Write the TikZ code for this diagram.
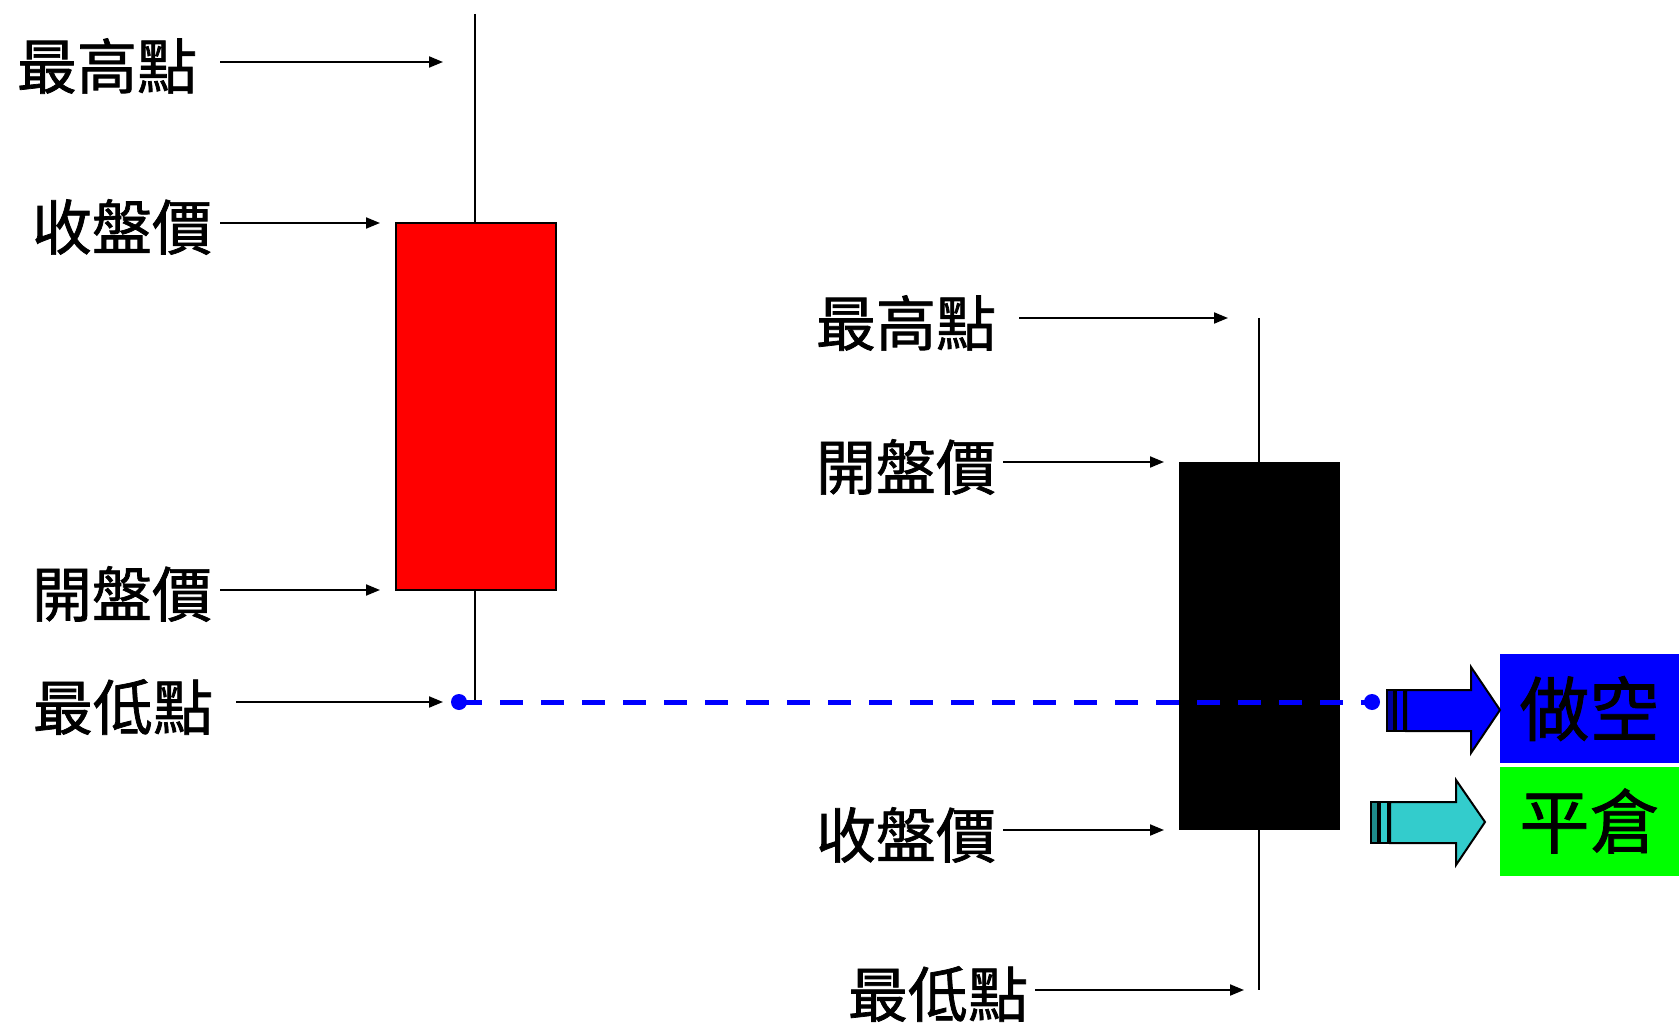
\documentclass[tikz,border=0pt]{standalone}
\usepackage{fontspec}
\newfontfamily\cjk[FakeBold=1.2]{Noto Sans CJK TC}
\usetikzlibrary{arrows.meta}
\definecolor{cyanA}{HTML}{33CCCC}
\definecolor{cyanD}{HTML}{1E8C8C}
\definecolor{blueD}{HTML}{0000A0}
\tikzset{
  lbl/.style={font=\cjk\fontsize{60}{64}\selectfont, inner sep=0pt},
  big/.style={font=\cjk\fontsize{70}{74}\selectfont, inner sep=0pt, minimum width=179pt, minimum height=109pt},
  ptr/.style={line width=2pt, -{Triangle[length=14pt,width=11pt]}},
  wick/.style={line width=2pt},
  dot/.style={circle, fill=blue, inner sep=0pt, minimum size=16pt},
  blk/.style={draw=black, line width=2pt}
}
\begin{document}
\begin{tikzpicture}[x=1pt,y=-1pt]
\useasboundingbox (0,0) rectangle (1679,1024);
% left candle
\coordinate (lt) at (475,14);
\coordinate (lb) at (475,702);
\draw[wick] (lt) -- (lb);
\node[blk, fill=red, minimum width=160pt, minimum height=367pt, inner sep=0pt] (red) at (476,406.5) {};
% left labels
\node[lbl] (l1) at (107,66) {最高點};
\node[lbl] (l2) at (122,227) {收盤價};
\node[lbl] (l3) at (122,594) {開盤價};
\node[lbl] (l4) at (123,707) {最低點};
\coordinate (l1s) at (220,62);  \coordinate (l1e) at (443,62);
\coordinate (l2s) at (220,223); \coordinate (l2e) at (380,223);
\coordinate (l3s) at (220,590); \coordinate (l3e) at (380,590);
\coordinate (l4s) at (236,702); \coordinate (l4e) at (443,702);
\draw[ptr] (l1s) -- (l1e);
\draw[ptr] (l2s) -- (l2e);
\draw[ptr] (l3s) -- (l3e);
\draw[ptr] (l4s) -- (l4e);
% right candle
\coordinate (rt) at (1259,318);
\coordinate (rb) at (1259,990);
\draw[wick] (rt) -- (rb);
\node[fill=black, minimum width=161pt, minimum height=368pt, inner sep=0pt] (blackbox) at (1259.5,646) {};
% right labels
\node[lbl] (r1) at (906,323) {最高點};
\node[lbl] (r2) at (906,467) {開盤價};
\node[lbl] (r3) at (906,835) {收盤價};
\node[lbl] (r4) at (938,994) {最低點};
\coordinate (r1s) at (1019,318); \coordinate (r1e) at (1228,318);
\coordinate (r2s) at (1003,462); \coordinate (r2e) at (1164,462);
\coordinate (r3s) at (1003,830); \coordinate (r3e) at (1164,830);
\coordinate (r4s) at (1035,990); \coordinate (r4e) at (1244,990);
\draw[ptr] (r1s) -- (r1e);
\draw[ptr] (r2s) -- (r2e);
\draw[ptr] (r3s) -- (r3e);
\draw[ptr] (r4s) -- (r4e);
% dashed line
\node[dot] (dl) at (459,702) {};
\node[dot] (dr) at (1372,702) {};
\draw[blue, line width=5pt, dash pattern=on 23pt off 18pt] (dl.center) -- (dr.center);
% boxes
\node[big, fill=blue] (short) at (1589.5,708.5) {做空};
\node[big, fill=green] (close) at (1589.5,821) {平倉};
% block arrows
\draw[black, line width=1.5pt, fill=blueD] (1387,690) rectangle (1394,731);
\draw[black, line width=1.5pt, fill=blue] (1396,690) rectangle (1404,731);
\draw[black, line width=2pt, fill=blue, line join=miter]
  (1406,690) -- (1471,690) -- (1471,667) -- (1500,710) -- (1471,753) -- (1471,731) -- (1406,731) -- cycle;
\draw[black, line width=1.5pt, fill=cyanD] (1371,802) rectangle (1378,843);
\draw[black, line width=1.5pt, fill=cyanA] (1380,802) rectangle (1388,843);
\draw[black, line width=2pt, fill=cyanA, line join=miter]
  (1390,802) -- (1456,802) -- (1456,780) -- (1485,822) -- (1456,865) -- (1456,843) -- (1390,843) -- cycle;
\end{tikzpicture}
\end{document}
